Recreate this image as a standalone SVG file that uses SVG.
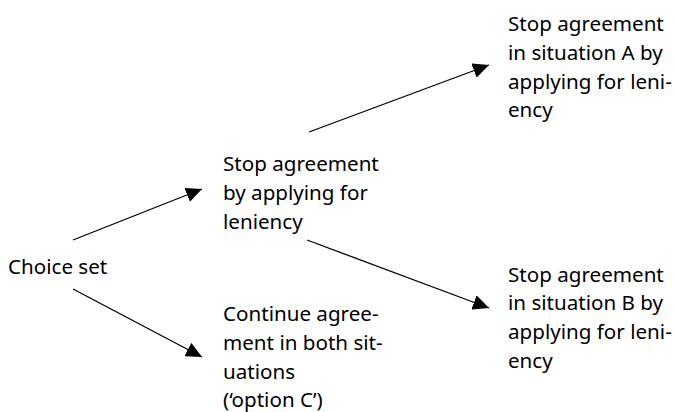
<svg xmlns="http://www.w3.org/2000/svg" width="675" height="412" viewBox="0 0 675 412">
  <style>
    .label { font-family: "Noto Sans", "Open Sans", sans-serif; font-size: 20.6px; fill: #000; }
    .edge { stroke: #000; stroke-width: 1.3; fill: none; marker-end: url(#head); }
  </style>
  <defs>
    <marker id="head" markerUnits="userSpaceOnUse" markerWidth="17" markerHeight="15" viewBox="0 0 17 15" refX="16" refY="7.5" orient="auto">
      <path d="M0,0 L16,7.5 L0,15 Z" fill="#000"/>
    </marker>
  </defs>

  <rect width="675" height="412" fill="#fff"/>

  <g id="connectors">
    <line class="edge" x1="73" y1="240" x2="202" y2="189"/>
    <line class="edge" x1="73" y1="289" x2="202" y2="357"/>
    <line class="edge" x1="309" y1="132" x2="489" y2="65"/>
    <line class="edge" x1="307" y1="240" x2="489" y2="308"/>
  </g>

  <g id="choice-set">
    <text class="label" x="8" y="273.5">Choice set</text>
  </g>

  <g id="stop-agreement">
    <text class="label" x="223" y="171">Stop agreement</text>
    <text class="label" x="223" y="199.8">by applying for</text>
    <text class="label" x="223" y="228.6">leniency</text>
  </g>

  <g id="continue-agreement">
    <text class="label" x="223" y="321">Continue agree-</text>
    <text class="label" x="223" y="349.8">ment in both sit-</text>
    <text class="label" x="223" y="378.6">uations</text>
    <text class="label" x="223" y="407.4">(‘option C’)</text>
  </g>

  <g id="stop-situation-a">
    <text class="label" x="508" y="31">Stop agreement</text>
    <text class="label" x="508" y="59.8">in situation A by</text>
    <text class="label" x="508" y="88.6">applying for leni-</text>
    <text class="label" x="508" y="117.4">ency</text>
  </g>

  <g id="stop-situation-b">
    <text class="label" x="508" y="281.5">Stop agreement</text>
    <text class="label" x="508" y="310.3">in situation B by</text>
    <text class="label" x="508" y="339.1">applying for leni-</text>
    <text class="label" x="508" y="367.9">ency</text>
  </g>
</svg>
